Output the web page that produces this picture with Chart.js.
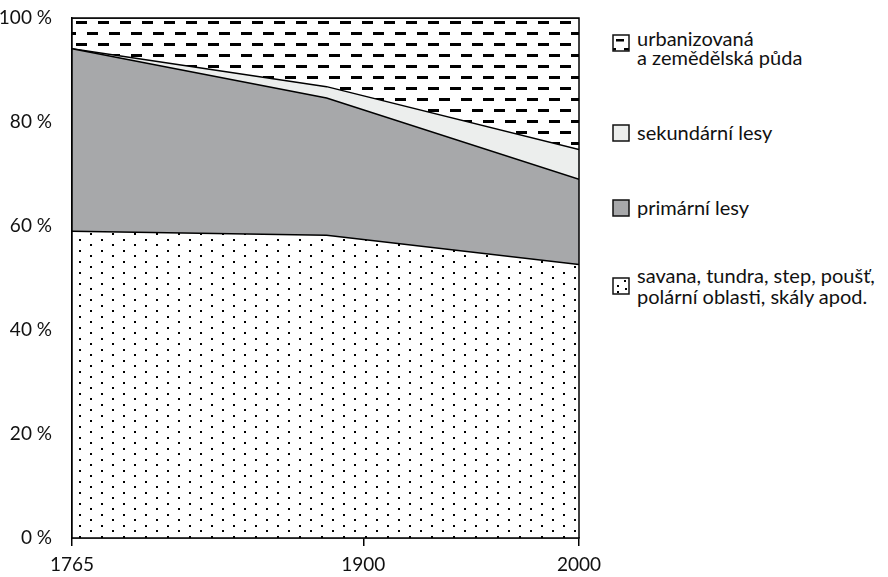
<!DOCTYPE html>
<html>
<head>
<meta charset="utf-8">
<script src="https://cdn.jsdelivr.net/npm/chart.js@4.4.1/dist/chart.umd.min.js"></script>
<style>
    body { margin: 0; background: #fff; font-family: Lato, "Open Sans", sans-serif; color: #111; }
    #wrap { position: relative; width: 888px; height: 577px; }
    #chartBox { position: absolute; left: 0; top: 0; width: 611px; height: 577px; }
    .item { position: absolute; left: 637px; font-size: 20px; line-height: 19px; white-space: nowrap; }
    .icon { position: absolute; left: 612px; width: 18px; height: 18px; }
</style>
</head>
<body>
<div id="wrap">
    <div id="chartBox"><canvas id="landChart"></canvas></div>

    <canvas class="icon" id="icoUrban" width="18" height="18" style="top:34px"></canvas>
    <div class="item" style="top:29px">urbanizovaná<br>a zemědělská půda</div>

    <canvas class="icon" id="icoSek" width="18" height="18" style="top:124px"></canvas>
    <div class="item" style="top:123px">sekundární lesy</div>

    <canvas class="icon" id="icoPrim" width="18" height="18" style="top:199px"></canvas>
    <div class="item" style="top:198px">primární lesy</div>

    <canvas class="icon" id="icoSav" width="18" height="18" style="top:277px"></canvas>
    <div class="item" style="top:265px; line-height:21px">savana, tundra, step, poušť,<br>polární oblasti, skály apod.</div>
</div>

<script>
// roky (osa x) - prostřední zlom je trochu před rokem 1900
const years = [1765, 1883, 2000];
const tickYears = [1765, 1900, 2000];
const yTicks = [0, 20, 40, 60, 80, 100];

// podíly v % (skládané odspodu)
const savana = [59.0, 58.2, 52.6];
const primarniLesy = [35.1, 26.4, 16.4];
const sekundarniLesy = [0, 2.2, 5.7];
const urbanizovana = [5.9, 13.2, 25.3];

const GRAY = '#a7a8aa';
const LIGHT = '#eceeed';

// vzor s čárkami (urbanizovaná půda)
function dashPattern(ctx) {
    const c = document.createElement('canvas');
    c.width = 22; c.height = 22;
    const g = c.getContext('2d');
    g.fillStyle = '#fff';
    g.fillRect(0, 0, 22, 22);
    g.fillStyle = '#000';
    g.fillRect(4, 3, 11, 3);
    g.fillRect(15, 14, 7, 3);
    g.fillRect(0, 14, 4, 3);
    const p = ctx.createPattern(c, 'repeat');
    p.setTransform(new DOMMatrix().translate(72, 18));
    return p;
}

// vzor s tečkami (savana apod.)
function dotPattern(ctx) {
    const c = document.createElement('canvas');
    c.width = 22; c.height = 11;
    const g = c.getContext('2d');
    g.fillStyle = '#fff';
    g.fillRect(0, 0, 22, 11);
    g.fillStyle = '#000';
    g.fillRect(7, 1, 2, 2);
    g.fillRect(18, 6, 2, 2);
    const p = ctx.createPattern(c, 'repeat');
    p.setTransform(new DOMMatrix().translate(72, 18));
    return p;
}

const ctx = document.getElementById('landChart').getContext('2d');

const toPoints = arr => arr.map((v, i) => ({ x: years[i], y: v }));

const frame = {
    id: 'frame',
    afterDatasetsDraw(chart) {
        const a = chart.chartArea;
        const c = chart.ctx;
        c.save();
        c.strokeStyle = '#000';
        c.lineWidth = 1.5;
        c.strokeRect(a.left, a.top, a.right - a.left, a.bottom - a.top);
        c.restore();
    }
};

const lineDefaults = { borderColor: '#000', borderWidth: 1.5, pointRadius: 0, tension: 0 };
const tickFont = { family: 'Lato', size: 19 };

new Chart(ctx, {
    type: 'line',
    data: {
        datasets: [
            { label: 'savana, tundra, step, poušť, polární oblasti, skály apod.', data: toPoints(savana), backgroundColor: dotPattern(ctx), fill: 'origin', ...lineDefaults },
            { label: 'primární lesy', data: toPoints(primarniLesy), backgroundColor: GRAY, fill: '-1', ...lineDefaults },
            { label: 'sekundární lesy', data: toPoints(sekundarniLesy), backgroundColor: LIGHT, fill: '-1', ...lineDefaults },
            { label: 'urbanizovaná a zemědělská půda', data: toPoints(urbanizovana), backgroundColor: dashPattern(ctx), fill: '-1', ...lineDefaults }
        ]
    },
    options: {
        responsive: true,
        maintainAspectRatio: false,
        animation: false,
        layout: { padding: { top: 18, right: 32, left: 0, bottom: 0 } },
        plugins: { legend: { display: false }, tooltip: { enabled: false } },
        scales: {
            x: {
                type: 'linear',
                min: 1765,
                max: 2000,
                afterBuildTicks: s => { s.ticks = tickYears.map(v => ({ value: v })); },
                afterFit: s => { s.height = 39; s.paddingLeft = 0; s.paddingRight = 0; },
                grid: { display: true, drawOnChartArea: false, drawTicks: true, tickLength: 8, color: '#000', lineWidth: 1.5 },
                border: { display: true, color: '#000', width: 1.5 },
                ticks: { color: '#111', font: tickFont, padding: 7, maxRotation: 0, callback: v => String(v) }
            },
            y: {
                stacked: true,
                min: 0,
                max: 100,
                afterBuildTicks: s => { s.ticks = yTicks.map(v => ({ value: v })); },
                afterFit: s => { s.width = 72; s.paddingTop = 0; s.paddingBottom = 0; },
                grid: { display: false },
                border: { display: true, color: '#000', width: 1.5 },
                ticks: { color: '#111', font: tickFont, padding: 12, callback: v => v + ' %' }
            }
        }
    },
    plugins: [frame]
});

// ikonky legendy
function iconBox(id, fill, extra) {
    const c = document.getElementById(id).getContext('2d');
    c.fillStyle = fill;
    c.fillRect(1, 1, 16, 16);
    if (extra) extra(c);
    c.strokeStyle = '#111';
    c.lineWidth = 1.5;
    c.strokeRect(1, 1, 16, 16);
}
iconBox('icoUrban', '#fff', c => {
    c.fillStyle = '#000';
    c.fillRect(4, 5, 8, 2.5);
    c.fillRect(1, 14, 3, 2.5);
    c.fillRect(12, 14, 5, 2.5);
});
iconBox('icoSek', LIGHT);
iconBox('icoPrim', GRAY);
iconBox('icoSav', '#fff', c => {
    c.fillStyle = '#000';
    c.fillRect(12, 3, 2, 2);
    c.fillRect(5, 8, 2, 2);
    c.fillRect(13, 11, 2, 2);
    c.fillRect(5, 14, 2, 2);
});
</script>
</body>
</html>
